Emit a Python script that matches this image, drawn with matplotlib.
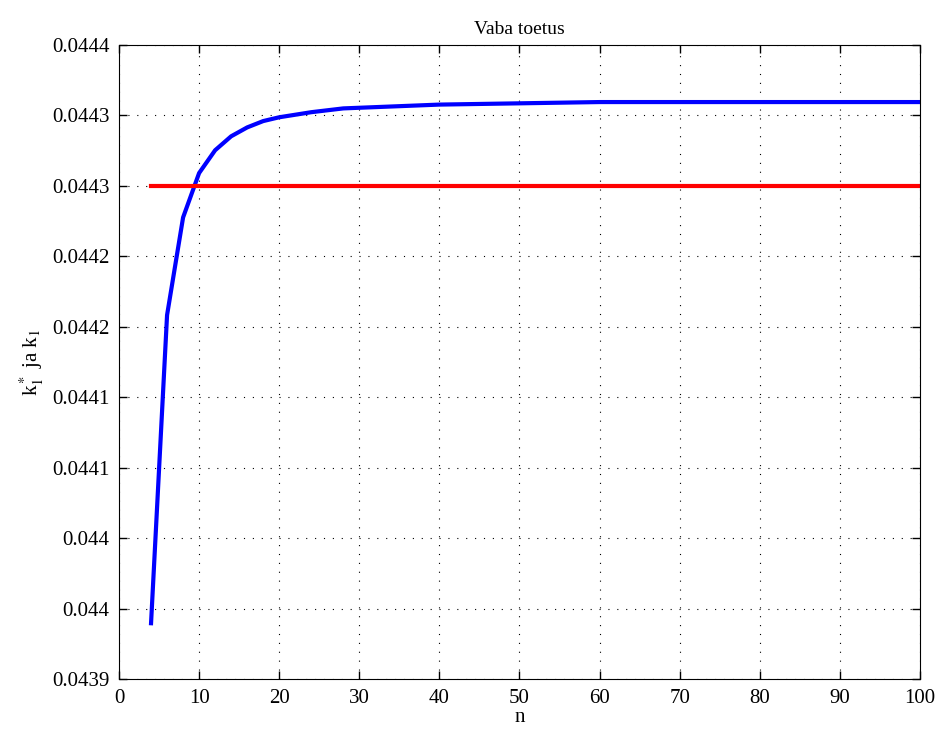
import numpy as np
import matplotlib.pyplot as plt

plt.rcParams['font.family'] = ['Liberation Serif', 'DejaVu Serif']
plt.rcParams['mathtext.fontset'] = 'stix'

# n values and k1* (blue)
n = [4, 6, 8, 10, 12, 14, 16, 18, 20, 24, 28, 32, 36, 40, 50, 60, 70, 80, 90, 100]
k_star = [0.043944, 0.044187, 0.044264, 0.044299, 0.044317, 0.044328, 0.044335,
          0.044340, 0.044343, 0.044347, 0.044350, 0.044351, 0.044352, 0.044353,
          0.044354, 0.044355, 0.044355, 0.044355, 0.044355, 0.044355]
k1 = 0.044289
k1_range = [4, 100]

ytick_vals = np.linspace(0.0439, 0.0444, 10)
ytick_labels = ['0.0439', '0.044', '0.044', '0.0441', '0.0441',
                '0.0442', '0.0442', '0.0443', '0.0443', '0.0444']
xticks = [0, 10, 20, 30, 40, 50, 60, 70, 80, 90, 100]

fig = plt.figure(figsize=(9.43, 7.34), dpi=100)
ax = fig.add_axes([0.1262, 0.0749, 0.8494, 0.8638])

ax.plot(n, k_star, color='#0000ff', lw=3)
ax.plot(k1_range, [k1, k1], color='#ff0000', lw=3)

ax.set_xlim(0, 100)
ax.set_ylim(0.0439, 0.0444)
ax.set_xticks(xticks)
ax.set_yticks(ytick_vals)
ax.set_yticklabels(ytick_labels)
ax.tick_params(direction='in', top=True, right=True, labelsize=15, length=6, width=1, pad=7)
ax.grid(True, linestyle=(0, (1, 7)), color='k', lw=0.8)

ax.set_title('Vaba toetus', fontsize=14, pad=8)
ax.set_xlabel('n', fontsize=15, labelpad=0)
ax.set_ylabel(r'k$_1^*$ ja k$_1$', fontsize=15, labelpad=4)

fig.savefig('out.png', dpi=100)
